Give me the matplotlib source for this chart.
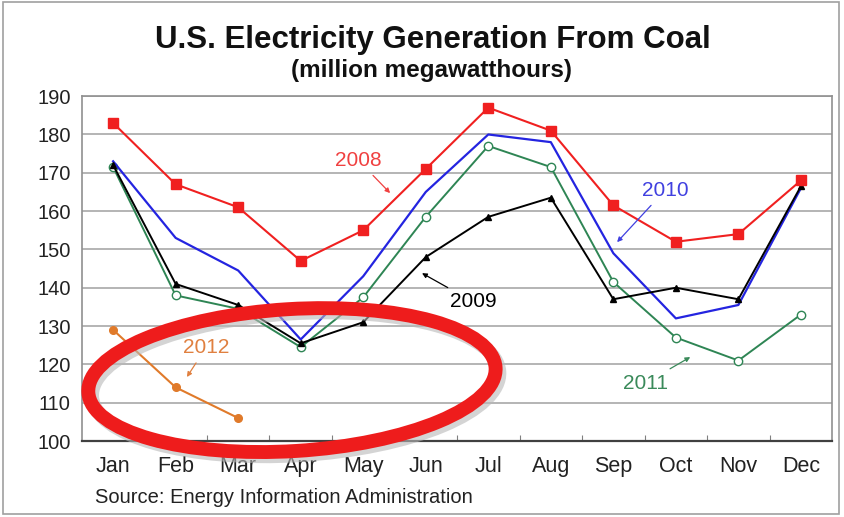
import matplotlib
matplotlib.use("Agg")
import matplotlib.pyplot as plt
from matplotlib.patches import Ellipse, Rectangle
from matplotlib.transforms import ScaledTranslation

plt.rcParams['font.family'] = ['Liberation Sans', 'DejaVu Sans']

# data (million megawatthours)
months = ["Jan", "Feb", "Mar", "Apr", "May", "Jun", "Jul", "Aug", "Sep", "Oct", "Nov", "Dec"]
y2008 = [183, 167, 161, 147, 155, 171, 187, 181, 161.5, 152, 154, 168]
y2009 = [172, 141, 135.5, 125.5, 131, 148, 158.5, 163.5, 137, 140, 137, 166.5]
y2010 = [173, 153, 144.5, 126.5, 143, 165, 180, 178, 149, 132, 135.5, 166]
y2011 = [171.5, 138, 134.5, 124.5, 137.5, 158.5, 177, 171.5, 141.5, 127, 121, 133]
y2012 = [129, 114, 106]

x = list(range(len(months)))

fig = plt.figure(figsize=(8.44, 5.17), dpi=100)
ax = fig.add_axes([0.097, 0.147, 0.889, 0.667])

# outer frame
fig.patches.append(Rectangle((0.003, 0.006), 0.991, 0.99, transform=fig.transFigure,
                             fill=False, edgecolor="#a0a0a0", linewidth=1.2))

ax.set_xlim(-0.5, 11.5)
ax.set_ylim(100, 190)
ax.set_yticks(range(100, 191, 10))
ax.yaxis.grid(True, color="#a8a8a8", linewidth=1.2)
ax.set_axisbelow(True)
for s in ax.spines.values():
    s.set_color("#909090")
    s.set_linewidth(1.2)
ax.spines['bottom'].set_color("#404040")
ax.spines['bottom'].set_linewidth(1.6)

ax.set_xticks([i + 0.5 for i in range(11)])
ax.set_xticklabels([])
ax.set_xticks(x, minor=True)
ax.set_xticklabels(months, minor=True)
ax.tick_params(axis='x', which='major', direction='in', length=4, color="#808080")
ax.tick_params(axis='x', which='minor', length=0, pad=11, labelsize=15.5, labelcolor="#222222")
ax.tick_params(axis='y', length=0, pad=8, labelsize=14.5, labelcolor="#222222")

ax.plot(x, y2011, color="#2e8554", lw=1.4, marker='o', ms=6, mfc='white', mec="#2e8554", mew=1)
ax.plot(x, y2010, color="#2424e0", lw=1.6)
ax.plot(x, y2009, color="black", lw=1.4, marker='^', ms=5)
ax.plot(x, y2008, color="#f02020", lw=1.5, marker='s', ms=6.5)
ax.plot(x[:len(y2012)], y2012, color="#e07a2a", lw=1.5, marker='o', ms=5.5)

# red hand-drawn style ring, sized in inches, centred on a data point
ring_at = fig.dpi_scale_trans + ScaledTranslation(2.86, 115.9, ax.transData)
shadow_at = fig.dpi_scale_trans + ScaledTranslation(2.92, 114.8, ax.transData)
ax.add_patch(Ellipse((0, 0), 4.08, 1.42, angle=3.5, transform=shadow_at, fill=False,
                     edgecolor="#b8b8b8", linewidth=10, alpha=0.6, clip_on=False, zorder=5))
ax.add_patch(Ellipse((0, 0), 4.08, 1.42, angle=3.5, transform=ring_at, fill=False,
                     edgecolor="#ee1c1c", linewidth=10, clip_on=False, zorder=6))

def label(txt, color, xy, xytext):
    ax.annotate(txt, xy=xy, xytext=xytext, color=color, fontsize=15,
                ha='center', va='center', zorder=7,
                arrowprops=dict(arrowstyle='-|>', color=color, lw=0.9,
                                mutation_scale=7, shrinkA=3, shrinkB=0))

label("2008", "#f04040", (4.43, 164.7), (3.92, 173.3))
label("2010", "#4040e0", (8.06, 151.9), (8.83, 165.5))
label("2009", "black", (4.94, 143.8), (5.76, 136.3))
label("2012", "#e08040", (1.18, 116.7), (1.49, 124.5))
label("2011", "#3a8a5a", (9.23, 121.9), (8.51, 115.1))

fig.text(0.513, 0.922, "U.S. Electricity Generation From Coal", ha='center', va='center',
         fontsize=22.5, fontweight='bold', color="#111111")
fig.text(0.511, 0.864, "(million megawatthours)", ha='center', va='center',
         fontsize=17.5, fontweight='bold', color="#111111")
fig.text(0.113, 0.038, "Source: Energy Information Administration", ha='left', va='center',
         fontsize=14.5, color="#222222")

fig.savefig("out.png", dpi=100)
